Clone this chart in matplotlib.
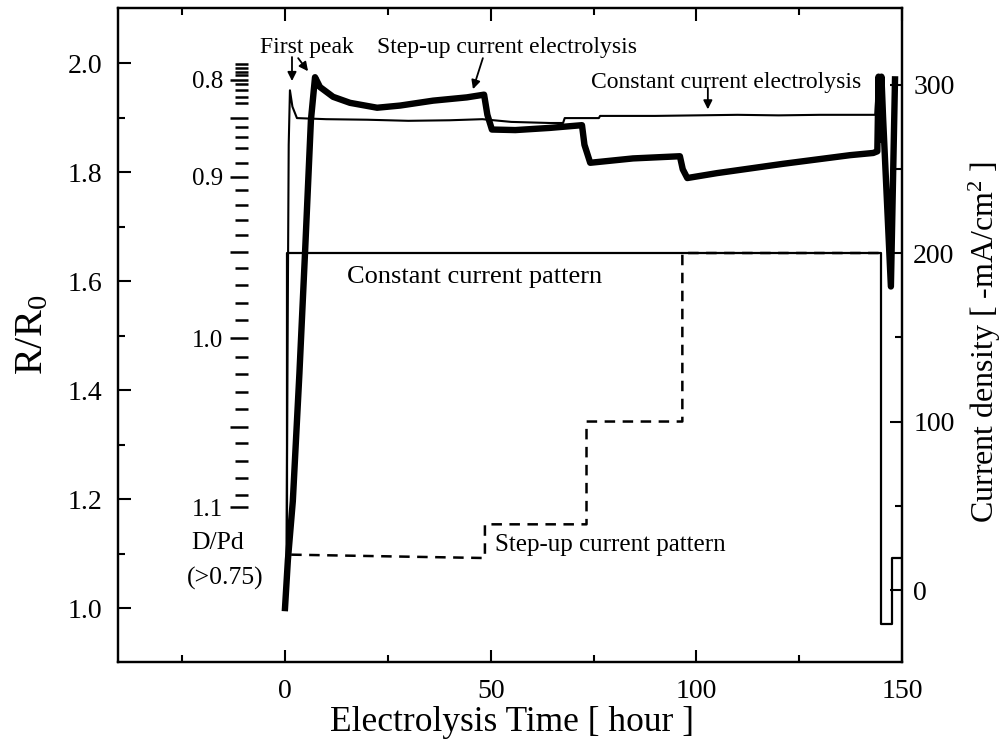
import matplotlib
matplotlib.use('Agg')
import matplotlib.pyplot as plt

plt.rcParams['font.family'] = ['Liberation Serif', 'DejaVu Serif']
plt.rcParams['mathtext.fontset'] = 'custom'
plt.rcParams['mathtext.rm'] = 'Liberation Serif'
plt.rcParams['mathtext.it'] = 'Liberation Serif:italic'

# ---- data ----
# Step-up current electrolysis: R/R0 (thick line)
step_t = [0.0, 0.7, 1.9, 3.5, 4.9, 6.3, 7.3, 8.5, 11.7, 15.8, 22.4, 28.0, 36.0, 44.2,
          48.4, 49.2, 50.3, 56.0, 64.4, 72.2, 72.8, 74.2, 84.6, 96.0, 96.7, 97.8,
          105.0, 121.0, 137.4, 143.0, 144.0, 144.3, 144.7, 145.0, 145.4, 147.3, 148.3]
step_R = [1.000, 1.088, 1.196, 1.430, 1.657, 1.895, 1.974, 1.956, 1.938, 1.927, 1.918, 1.922,
          1.931, 1.937, 1.942, 1.905, 1.878, 1.877, 1.881, 1.886, 1.850, 1.817, 1.825,
          1.829, 1.805, 1.789, 1.798, 1.815, 1.831, 1.835, 1.838, 1.975, 1.860, 1.975,
          1.900, 1.590, 1.970]

# Constant current electrolysis: R/R0 (thin line)
const_t = [0.3, 0.6, 0.9, 1.2, 1.8, 2.9, 10.0, 20.0, 30.0, 40.0, 48.0, 55.0, 64.4, 67.6,
           68.0, 76.3, 76.6, 90.0, 100.0, 110.0, 120.0, 130.0, 143.5, 144.0, 144.3]
const_R = [1.000, 1.450, 1.850, 1.950, 1.920, 1.899, 1.897, 1.896, 1.894, 1.895, 1.897,
           1.892, 1.890, 1.890, 1.899, 1.899, 1.903, 1.903, 1.904, 1.905, 1.904, 1.905,
           1.905, 1.970, 1.900]

# Current patterns (right axis, -mA/cm^2)
cpat_t = [0.5, 0.5, 145.0, 145.0, 147.6, 147.6, 149.8]
cpat_I = [0, 200, 200, -20, -20, 19, 19]
spat_t = [1.5, 48.6, 48.6, 73.3, 73.3, 96.6, 96.6, 145.0]
spat_I = [21, 19, 39, 39, 100, 100, 200, 200]

# Axis ticks
x_major = [0, 50, 100, 150]
x_minor = [-25, 25, 75, 125]
r_major = [1.0, 1.2, 1.4, 1.6, 1.8, 2.0]
r_minor = [1.1, 1.3, 1.5, 1.7, 1.9]
r_labels = ['1.0', '1.2', '1.4', '1.6', '1.8', '2.0']
i_major = [0, 100, 200, 300]
i_minor = [50, 150, 250]

# D/Pd scale drawn against R/R0
dpd_major_R = [1.969, 1.899, 1.791, 1.653, 1.495, 1.332, 1.185]
dpd_major_labels = ['0.8', '', '0.9', '', '1.0', '', '1.1']
dpd_minor_R = [1.998, 1.991, 1.983, 1.978, 1.961, 1.950, 1.938, 1.927, 1.883, 1.864,
               1.844, 1.817, 1.767, 1.739, 1.712, 1.684, 1.624, 1.593, 1.560, 1.528,
               1.461, 1.429, 1.396, 1.365, 1.303, 1.270, 1.239, 1.207]

# ---- figure ----
W, H = 1007, 746
fig = plt.figure(figsize=(W / 100, H / 100), dpi=100)
L, R_, B, T = 118, 902, 662, 8
ax = fig.add_axes([L / W, 1 - B / H, (R_ - L) / W, (B - T) / H])
ax2 = ax.twinx()

ax.set_xlim(-40.6, 150)
ax.set_ylim(0.901, 2.101)
ax2.set_ylim(-42.7, 345.4)

ax.plot(step_t, step_R, color='black', lw=4.6, solid_joinstyle='round', zorder=3)
ax.plot(const_t, const_R, color='black', lw=1.5, zorder=3)
ax2.plot(cpat_t, cpat_I, color='black', lw=1.6)
ax2.plot(spat_t, spat_I, color='black', lw=1.8, linestyle=(0, (4.2, 3.0)))

for a in (ax, ax2):
    for s in a.spines.values():
        s.set_linewidth(1.6)

ax.set_xticks(x_major)
ax.set_xticks(x_minor, minor=True)
ax.set_yticks(r_major, labels=r_labels)
ax.set_yticks(r_minor, minor=True)
ax.tick_params(which='both', direction='in', top=True, right=False, width=1.5,
               labelsize=20)
ax.tick_params(which='major', length=9)
ax.tick_params(which='minor', length=5)
ax.tick_params(axis='x', which='major', pad=12)
ax.tick_params(axis='y', which='major', pad=11)

ax2.set_yticks(i_major)
ax2.set_yticks(i_minor, minor=True)
ax2.tick_params(which='both', direction='in', width=1.5, labelsize=20)
ax2.tick_params(which='major', length=9, pad=8)
ax2.tick_params(which='minor', length=5)

ax.set_xlabel('Electrolysis Time [ hour ]', fontsize=25.5)
ax.xaxis.label.set_va('center')
ax.xaxis.set_label_coords(0.503, -0.092)
ax.set_ylabel(r'R/R$_0$', fontsize=29)
ax.yaxis.label.set_va('center')
ax.yaxis.set_label_coords(-0.109, 0.5)
ax2.set_ylabel(r'Current density [ -mA/cm$^2$ ]', fontsize=23, rotation=90)
ax2.yaxis.label.set_va('center')
ax2.yaxis.set_label_coords(1.106, 0.49)

# D/Pd inner scale
sec = ax.secondary_yaxis((248 - L) / (R_ - L))
sec.set_yticks(dpd_major_R, labels=dpd_major_labels)
sec.set_yticks(dpd_minor_R, minor=True)
sec.tick_params(which='both', direction='out', width=1.8, labelsize=18)
sec.tick_params(which='major', length=13, pad=5)
sec.tick_params(which='minor', length=9.5)
for s in sec.spines.values():
    s.set_visible(False)

ax.text(-16.3, 1.12, 'D/Pd', ha='center', va='center', fontsize=18.5)
ax.text(-14.6, 1.055, '(>0.75)', ha='center', va='center', fontsize=18.5)

# annotations
arr = dict(arrowstyle='-|>', lw=1.3, color='black', mutation_scale=13, shrinkA=0, shrinkB=0)
ax.text(5.3, 2.029, 'First peak', ha='center', va='center', fontsize=17)
ax.annotate('', xy=(1.7, 1.967), xytext=(1.7, 2.011), arrowprops=arr)
ax.annotate('', xy=(5.6, 1.985), xytext=(3.2, 2.009), arrowprops=arr)
ax.text(54.0, 2.029, 'Step-up current electrolysis', ha='center', va='center', fontsize=17)
ax.annotate('', xy=(45.7, 1.952), xytext=(48.1, 2.009), arrowprops=arr)
ax.text(107.2, 1.965, 'Constant current electrolysis', ha='center', va='center', fontsize=17)
ax.annotate('', xy=(102.8, 1.915), xytext=(102.8, 1.954), arrowprops=arr)
ax2.text(46.2, 186, 'Constant current pattern', ha='center', va='center', fontsize=19)
ax2.text(79.0, 26.5, 'Step-up current pattern', ha='center', va='center', fontsize=18)

fig.savefig('out.png', dpi=100)
